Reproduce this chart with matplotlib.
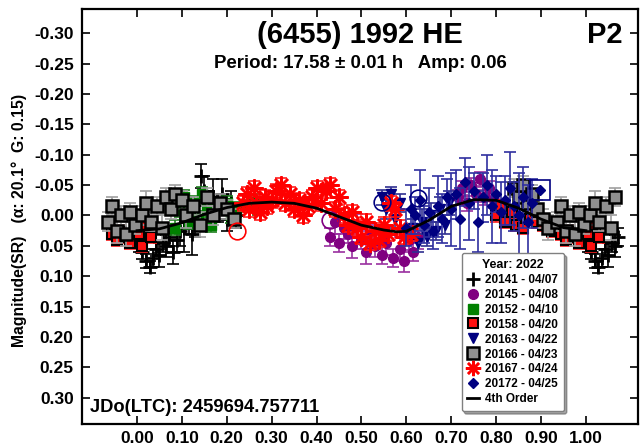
import matplotlib
matplotlib.use("Agg")
import matplotlib.pyplot as plt
from matplotlib.lines import Line2D

plt.rcParams['font.family'] = ['Liberation Sans', 'DejaVu Sans']
plt.rcParams['font.weight'] = 'bold'

# ---------------- data (phase, magnitude, error) ----------------
p141 = [0.005, 0.012, 0.02, 0.028, 0.035, 0.042, 0.05, 0.058, 0.065, 0.072, 0.08, 0.088,
        0.095, 0.105, 0.115, 0.122, 0.13, 0.142, 0.15, 0.16, 0.17, 0.18, 0.19, 0.2, 0.21, 0.22]
m141 = [0.045, 0.06, 0.075, 0.085, 0.07, 0.055, 0.065, 0.045, 0.05, 0.035, 0.06, 0.04,
        0.025, 0.02, 0.0, 0.03, 0.01, -0.065, -0.04, -0.02, -0.03, -0.01, -0.035, 0.005, -0.02, 0.0]
e141 = [0.015, 0.012, 0.012, 0.01, 0.015, 0.012, 0.02, 0.015, 0.018, 0.015, 0.02, 0.02,
        0.025, 0.04, 0.03, 0.035, 0.025, 0.02, 0.025, 0.02, 0.03, 0.02, 0.025, 0.02, 0.02, 0.02]

p145 = [0.43, 0.44, 0.45, 0.46, 0.47, 0.48, 0.49, 0.50, 0.51, 0.52, 0.53, 0.545, 0.555, 0.57,
        0.585, 0.595, 0.605, 0.615, 0.625, 0.715, 0.725, 0.735, 0.745, 0.755, 0.765, 0.775, 0.785, 0.795]
m145 = [0.035, 0.01, 0.045, 0.02, 0.03, 0.05, 0.015, 0.04, 0.06, 0.03, 0.05, 0.065, 0.045, 0.07,
        0.055, 0.075, 0.04, 0.06, 0.035, -0.03, -0.045, -0.02, -0.05, -0.035, -0.06, -0.03, -0.045, -0.025]
e145 = [0.015, 0.02, 0.015, 0.018, 0.015, 0.02, 0.018, 0.015, 0.02, 0.015, 0.018, 0.015, 0.02, 0.015,
        0.02, 0.018, 0.02, 0.015, 0.02, 0.012, 0.012, 0.012, 0.012, 0.012, 0.012, 0.012, 0.012, 0.012]

p152 = [0.085, 0.095, 0.105, 0.115, 0.125, 0.135, 0.145, 0.155, 0.165, 0.2, 0.21, 0.22, 0.25, 0.26, 0.27]
m152 = [0.02, -0.01, -0.03, 0.01, -0.02, 0.005, -0.035, -0.01, 0.015, -0.02, 0.0, -0.01, -0.015, -0.025, -0.01]
e152 = [0.012, 0.012, 0.012, 0.012, 0.012, 0.012, 0.012, 0.012, 0.012, 0.012, 0.012, 0.012, 0.01, 0.01, 0.01]

p158 = [0.80, 0.81, 0.82, 0.835, 0.845, 0.86, 0.875, 0.89, 0.905, 0.925, 0.945, 0.955, 0.965,
        0.975, 0.985, 0.995, 0.005, 0.012, 0.02, 0.03]
m158 = [0.0, -0.015, 0.01, -0.005, 0.015, 0.02, 0.005, 0.01, 0.015, 0.025, 0.03, 0.04, 0.025,
        0.035, 0.045, 0.02, 0.03, 0.05, 0.015, 0.035]
e158 = [0.01] * 20

p163 = [0.545, 0.555, 0.565, 0.575, 0.585, 0.615, 0.625, 0.635, 0.645, 0.655, 0.665, 0.675, 0.685, 0.695]
m163 = [-0.03, -0.01, -0.035, 0.005, -0.02, 0.02, 0.045, 0.01, 0.035, 0.0, 0.025, -0.01, 0.015, -0.02]
e163 = [0.012, 0.015, 0.012, 0.015, 0.015, 0.015, 0.015, 0.02, 0.015, 0.02, 0.015, 0.02, 0.015, 0.02]

p166 = [0.84, 0.85, 0.86, 0.87, 0.88, 0.89, 0.905, 0.915, 0.935, 0.945, 0.955, 0.965, 0.975, 0.985,
        0.995, 0.01, 0.02, 0.03, 0.045, 0.055, 0.065, 0.075, 0.085, 0.1, 0.11, 0.125, 0.14, 0.155,
        0.17, 0.185, 0.2, 0.215]
m166 = [-0.045, -0.03, -0.05, -0.02, -0.035, -0.01, 0.005, 0.02, 0.01, -0.015, 0.025, 0.0, 0.03, -0.005,
        0.015, 0.0, -0.02, 0.01, -0.015, 0.02, -0.03, -0.01, -0.035, -0.025, 0.0, -0.015, 0.015, -0.03,
        0.0, -0.02, -0.01, 0.005]
e166 = [0.015, 0.015, 0.015, 0.015, 0.015, 0.015, 0.015, 0.02, 0.015, 0.015, 0.02, 0.015, 0.02, 0.015,
        0.015, 0.015, 0.02, 0.015, 0.015, 0.02, 0.015, 0.015, 0.015, 0.015, 0.02, 0.015, 0.02, 0.015,
        0.015, 0.015, 0.015, 0.015]

p167 = [0.235, 0.245, 0.25, 0.26, 0.265, 0.275, 0.285, 0.29, 0.30, 0.31, 0.32, 0.33, 0.34, 0.35,
        0.36, 0.37, 0.38, 0.39, 0.40, 0.41, 0.42, 0.43, 0.44, 0.45, 0.46, 0.47, 0.48, 0.49, 0.50,
        0.51, 0.52, 0.53, 0.54, 0.55, 0.56, 0.565, 0.575, 0.585, 0.595, 0.61]
m167 = [-0.02, -0.035, -0.01, -0.045, -0.02, -0.005, -0.03, -0.015, -0.025, -0.04, -0.05, -0.02, -0.035, -0.01,
        -0.025, 0.0, -0.015, -0.03, -0.045, -0.02, -0.04, -0.05, -0.01, -0.03, 0.0, 0.015, -0.005, 0.02, 0.035,
        0.01, 0.045, 0.025, 0.04, 0.015, 0.03, -0.02, -0.01, 0.02, 0.035, 0.03]
e167 = [0.012] * 40

p172 = [0.60, 0.61, 0.62, 0.63, 0.64, 0.65, 0.66, 0.67, 0.68, 0.69, 0.70, 0.71, 0.72, 0.73, 0.74,
        0.75, 0.76, 0.77, 0.78, 0.79, 0.80, 0.81, 0.82, 0.83, 0.84, 0.85, 0.86, 0.87, 0.88]
m172 = [0.02, -0.01, 0.0, -0.025, 0.015, -0.005, 0.025, -0.015, 0.005, -0.03, -0.01, -0.035, 0.005, -0.055, -0.02,
        -0.04, 0.01, -0.03, -0.05, -0.015, -0.035, -0.005, -0.025, -0.045, -0.015, 0.0, -0.03, 0.01, -0.02]
e172 = [0.03, 0.04, 0.03, 0.05, 0.03, 0.04, 0.03, 0.05, 0.04, 0.03, 0.06, 0.04, 0.05, 0.04, 0.06,
        0.03, 0.05, 0.04, 0.05, 0.06, 0.03, 0.05, 0.04, 0.06, 0.04, 0.07, 0.05, 0.06, 0.04]

# rejected / flagged points (circled or boxed)
circ_p = [0.223, 0.43, 0.545, 0.627]
circ_m = [0.025, 0.008, -0.022, -0.028]
circ_c = ['#ff0000', '#800080', '#000080', '#000080']
box_p = [0.898]
box_m = [-0.042]

# 4th order Fourier fit
fit_p = [0.00, 0.05, 0.10, 0.15, 0.20, 0.25, 0.30, 0.35, 0.40, 0.45, 0.50, 0.55, 0.58, 0.60,
         0.65, 0.70, 0.75, 0.80, 0.85, 0.90, 0.95, 1.00]
fit_m = [0.025, 0.022, 0.012, -0.002, -0.013, -0.020, -0.022, -0.020, -0.012, 0.002, 0.016, 0.024,
         0.027, 0.026, 0.008, -0.015, -0.026, -0.025, -0.012, 0.006, 0.020, 0.025]

labels = ['20141 - 04/07', '20145 - 04/08', '20152 - 04/10', '20158 - 04/20',
          '20163 - 04/22', '20166 - 04/23', '20167 - 04/24', '20172 - 04/25']

title = '(6455) 1992 HE'
subtitle = 'Period: 17.58 \u00b1 0.01 h   Amp: 0.06'
jd_text = 'JDo(LTC): 2459694.757711'
xticks = [0.0, 0.1, 0.2, 0.3, 0.4, 0.5, 0.6, 0.7, 0.8, 0.9, 1.0]
yticks = [-0.30, -0.25, -0.20, -0.15, -0.10, -0.05, 0.0, 0.05, 0.10, 0.15, 0.20, 0.25, 0.30]

series = [
    (p141, m141, e141, dict(marker='+', ms=10, mfc='black', mec='black', mew=2.0), 'black'),
    (p145, m145, e145, dict(marker='o', ms=7, mfc='#800080', mec='#800080', mew=1), '#9a30a0'),
    (p152, m152, e152, dict(marker='s', ms=7, mfc='#008000', mec='#008000', mew=1), '#208020'),
    (p158, m158, e158, dict(marker='s', ms=7, mfc='#ff1010', mec='black', mew=1.5), '#ff2020'),
    (p163, m163, e163, dict(marker='v', ms=7, mfc='#000080', mec='#000080', mew=1), '#303090'),
    (p166, m166, e166, dict(marker='s', ms=8.5, mfc='#909090', mec='black', mew=1.8), '#a0a0a0'),
    (p167, m167, e167, dict(marker=(8, 2, 0), ms=13, mfc='#ff0000', mec='#ff0000', mew=1.8), '#ff2020'),
    (p172, m172, e172, dict(marker='D', ms=5, mfc='#000080', mec='#000080', mew=1), '#3030a0'),
]

fig = plt.figure(figsize=(6.41, 4.48), dpi=100)
ax = fig.add_axes([0.128, 0.054, 0.868, 0.926])

W = 0.075
for k, (p, m, e, style, ecol) in enumerate(series):
    xs, ys, es = [], [], []
    for pi, mi, ei in zip(p, m, e):
        xs.append(pi); ys.append(mi); es.append(ei)
        if pi > 1 - W:
            xs.append(pi - 1); ys.append(mi); es.append(ei)
        if pi < W:
            xs.append(pi + 1); ys.append(mi); es.append(ei)
    ax.errorbar(xs, ys, yerr=es, fmt='none', ecolor=ecol, elinewidth=1.2, capsize=4,
                capthick=1.2, zorder=2 + k)
    ax.plot(xs, ys, linestyle='none', zorder=2.5 + k, **style)

for pc, mc, cc in zip(circ_p, circ_m, circ_c):
    ax.plot([pc], [mc], marker='o', ms=12, mfc='none', mec=cc, mew=1.2, zorder=12)
ax.plot(box_p, box_m, marker='s', ms=14, mfc='none', mec='#000080', mew=1.2, zorder=12)
ax.plot(box_p, box_m, marker='D', ms=5, mfc='#000080', mec='#000080', zorder=12)

ax.plot(fit_p, fit_m, color='black', lw=2.0, zorder=15)

ax.set_xlim(-0.1225, 1.117)
ax.set_ylim(0.343, -0.34)
ax.set_xticks(xticks)
ax.set_xticklabels(['%.2f' % v for v in xticks])
ax.set_yticks(yticks)
ax.set_yticklabels(['%.2f' % v for v in yticks])
ax.tick_params(direction='in', length=6, width=1.2, top=True, right=True,
               labelsize=12.5)
ax.tick_params(axis='x', pad=5)
ax.tick_params(axis='y', pad=6)
for lab in ax.get_xticklabels() + ax.get_yticklabels():
    lab.set_fontweight('bold')
for s in ax.spines.values():
    s.set_linewidth(1.6)

ax.set_ylabel('Magnitude(SR)   (\u03b1: 20.1\u00b0  G: 0.15)', fontsize=11.3, fontweight='bold')
ax.yaxis.set_label_coords(-0.099, 0.49)

ax.text(0.5, 0.937, title, transform=ax.transAxes, ha='center', va='center',
        fontsize=21, fontweight='bold')
ax.text(0.5, 0.868, subtitle, transform=ax.transAxes, ha='center', va='center',
        fontsize=13.4, fontweight='bold')
ax.text(0.939, 0.937, 'P2', transform=ax.transAxes, ha='center', va='center',
        fontsize=21, fontweight='bold')
ax.text(0.015, 0.039, jd_text, transform=ax.transAxes, ha='left', va='center',
        fontsize=13.2, fontweight='bold')

handles = []
for (p, m, e, style, ecol), lab in zip(series, labels):
    st = dict(style)
    if st['marker'] == (8, 2, 0):
        st['ms'] = 11
    handles.append(Line2D([], [], linestyle='none', label=lab, **st))
handles.append(Line2D([], [], color='black', lw=2, label='4th Order'))

leg = ax.legend(handles=handles, loc='upper left', bbox_to_anchor=(0.682, 0.412),
                borderaxespad=0, title='Year: 2022', fontsize=8.5, title_fontsize=9,
                handlelength=1.0, handletextpad=0.5, labelspacing=0.25,
                borderpad=0.5, fancybox=True, shadow=True, framealpha=1,
                edgecolor='#808080')
leg.get_title().set_fontweight('bold')
for t in leg.get_texts():
    t.set_fontweight('bold')
leg.set_zorder(30)

fig.savefig('out.png', dpi=100)
